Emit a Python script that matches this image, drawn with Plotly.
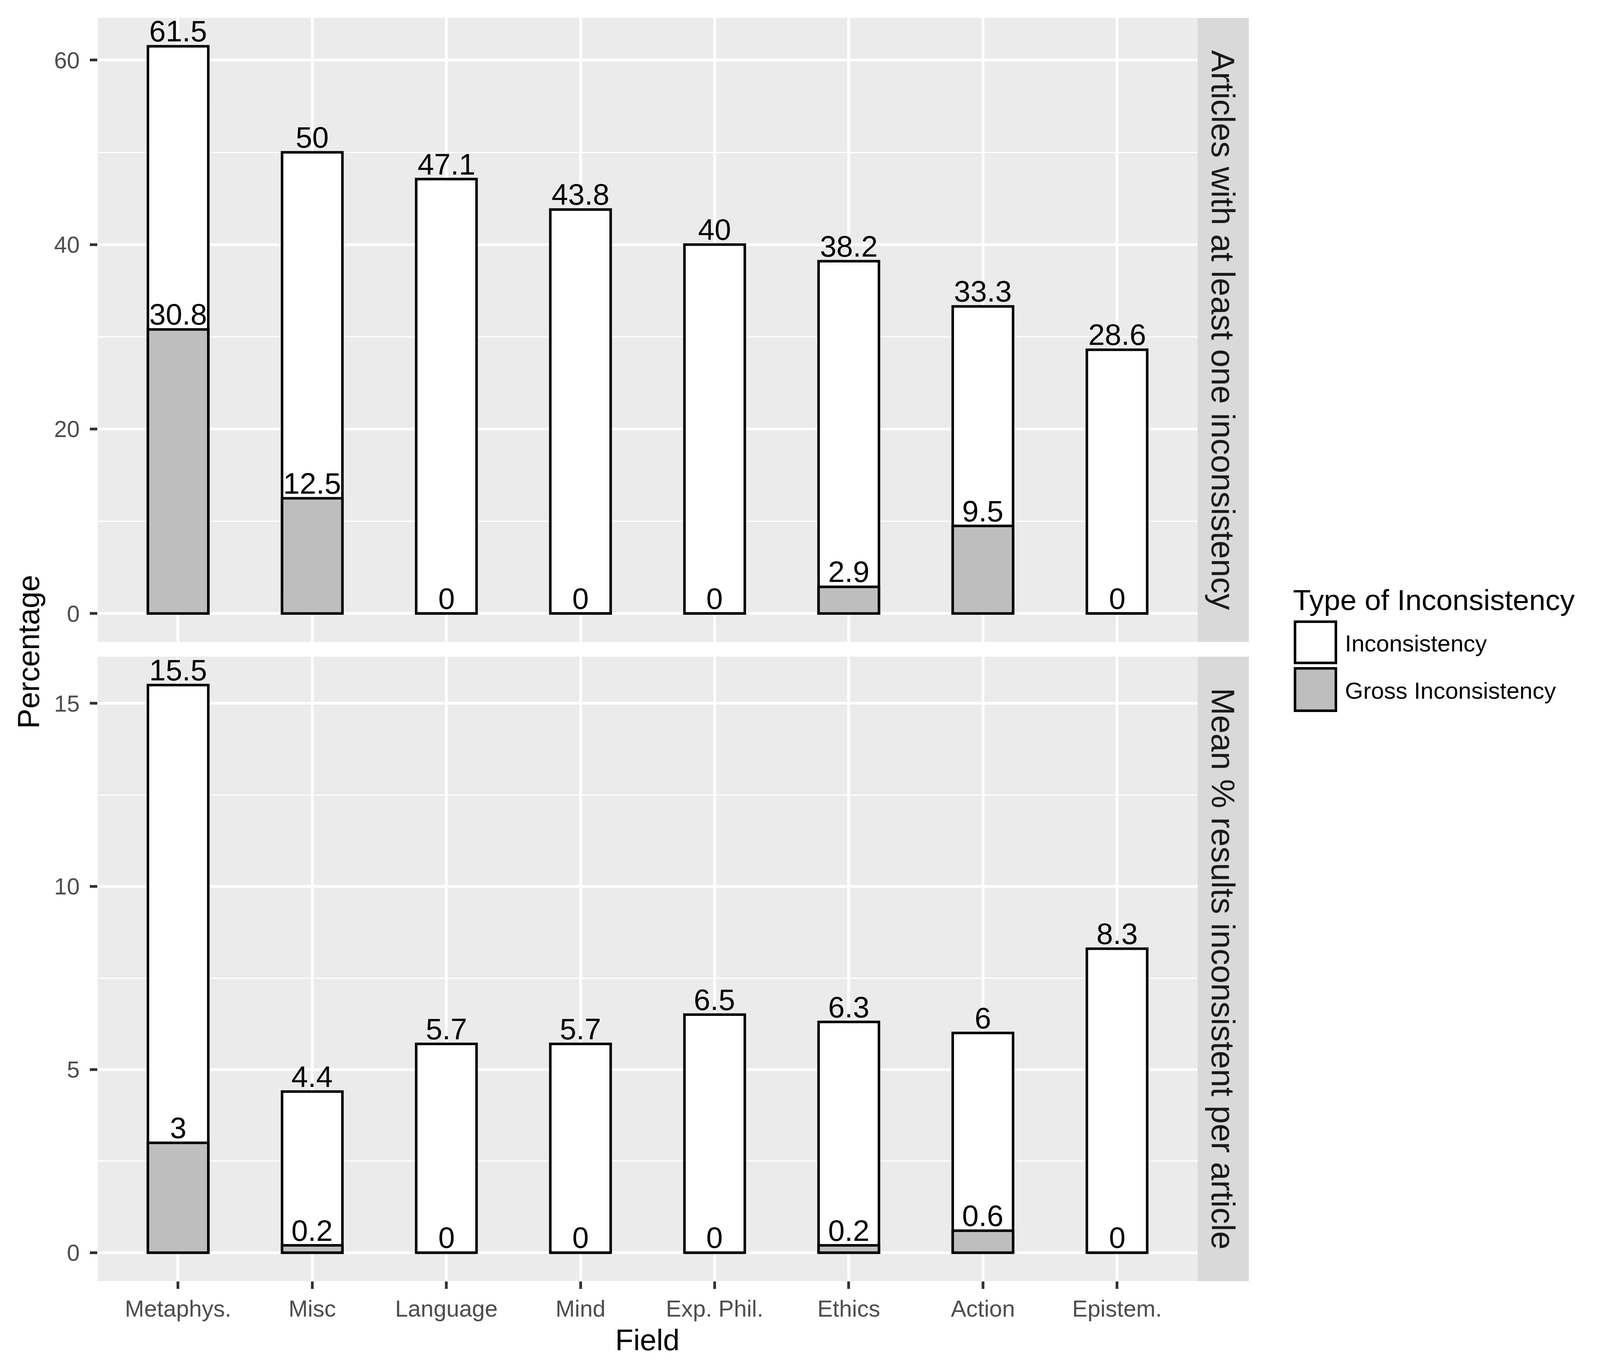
import plotly.graph_objects as go

# ---------------- data ----------------
fields = ["Metaphys.", "Misc", "Language", "Mind", "Exp. Phil.", "Ethics", "Action", "Epistem."]
articles_incons = [61.5, 50, 47.1, 43.8, 40, 38.2, 33.3, 28.6]
articles_gross = [30.8, 12.5, 0, 0, 0, 2.9, 9.5, 0]
mean_incons = [15.5, 4.4, 5.7, 5.7, 6.5, 6.3, 6, 8.3]
mean_gross = [3, 0.2, 0, 0, 0, 0.2, 0.6, 0]
panel_titles = ["Articles with at least one inconsistency",
                "Mean % results inconsistent per article"]
series_names = ["Inconsistency", "Gross Inconsistency"]
y_ticks_top = [0, 20, 40, 60]
y_ticks_bottom = [0, 5, 10, 15]

# ---------------- geometry (reference pixels, converted to paper fractions) ----------------
W, H = 4250, 3500
PX0, PX1 = 252, 3185          # panel x extent
STRIP_X1 = 3322
TOP_Y = (38, 1643)            # top panel (from top of page)
BOT_Y = (1681, 3287)          # bottom panel

def px(x):
    return x / W

def py(y):
    return 1 - y / H

FONT = "Liberation Sans, Arial, sans-serif"
WHITE_FILL = "#FFFFFF"
GREY_FILL = "#BEBEBE"
OUTLINE = 6.5
BAR_W = 0.45

fig = go.Figure()

panels = [
    ("x", "y", articles_incons, articles_gross),
    ("x2", "y2", mean_incons, mean_gross),
]
for xa, ya, tot, gross in panels:
    fig.add_trace(go.Bar(x=fields, y=tot, xaxis=xa, yaxis=ya, width=BAR_W,
                         name=series_names[0], showlegend=False,
                         marker=dict(color=WHITE_FILL, line=dict(color="black", width=OUTLINE)),
                         hoverinfo="x+y"))
    fig.add_trace(go.Bar(x=fields, y=gross, xaxis=xa, yaxis=ya, width=BAR_W,
                         name=series_names[1], showlegend=False,
                         marker=dict(color=GREY_FILL, line=dict(color="black", width=OUTLINE)),
                         hoverinfo="x+y"))

annotations = []

def fmt(v):
    return ("%g" % v)

# value labels
for xa, ya, tot, gross in panels:
    for f, t, g in zip(fields, tot, gross):
        for v in (t, g):
            annotations.append(dict(x=f, y=v, xref=xa, yref=ya, text=fmt(v),
                                    showarrow=False, xanchor="center", yanchor="bottom",
                                    yshift=-6, font=dict(family=FONT, size=76, color="black")))

grid_major = dict(showgrid=True, gridcolor="white", gridwidth=6.5)
common_y = dict(ticks="outside", ticklen=19, tickwidth=7, tickcolor="#333333",
                ticklabelstandoff=14,
                tickfont=dict(family=FONT, size=59, color="#4D4D4D"),
                zeroline=False, showline=False, **grid_major)

fig.update_layout(
    autosize=True,
    margin=dict(l=0, r=0, t=0, b=0, pad=0),
    paper_bgcolor="white", plot_bgcolor="#EBEBEB",
    barmode="overlay",
    showlegend=False,
    xaxis=dict(domain=[px(PX0), px(PX1)], anchor="y", type="category",
               categoryorder="array", categoryarray=fields, range=[-0.6, 7.6],
               showticklabels=False, ticks="", zeroline=False, showline=False,
               matches="x2", **grid_major),
    xaxis2=dict(domain=[px(PX0), px(PX1)], anchor="y2", type="category",
                categoryorder="array", categoryarray=fields, range=[-0.6, 7.6],
                ticks="outside", ticklen=19, tickwidth=7, tickcolor="#333333",
                tickfont=dict(family=FONT, size=59, color="#4D4D4D"),
                zeroline=False, showline=False, **grid_major),
    yaxis=dict(domain=[py(TOP_Y[1]), py(TOP_Y[0])], anchor="x", range=[-3.075, 64.575],
               tickvals=y_ticks_top,
               minor=dict(dtick=10, tick0=0, showgrid=True, gridcolor="white", gridwidth=3.2, ticks=""),
               **common_y),
    yaxis2=dict(domain=[py(BOT_Y[1]), py(BOT_Y[0])], anchor="x2", range=[-0.775, 16.275],
                tickvals=y_ticks_bottom,
                minor=dict(dtick=2.5, tick0=0, showgrid=True, gridcolor="white", gridwidth=3.2, ticks=""),
                **common_y),
)

shapes = []
# facet strips
for (y0, y1), title in zip([TOP_Y, BOT_Y], panel_titles):
    shapes.append(dict(type="rect", xref="paper", yref="paper",
                       x0=px(PX1), x1=px(STRIP_X1), y0=py(y1), y1=py(y0),
                       fillcolor="#D9D9D9", line=dict(width=0), layer="below"))
    annotations.append(dict(x=px((PX1 + STRIP_X1) / 2), y=py((y0 + y1) / 2),
                            xref="paper", yref="paper", text=title, textangle=90,
                            showarrow=False, xanchor="center", yanchor="middle",
                            font=dict(family=FONT, size=84, color="#1A1A1A")))

# axis titles
annotations.append(dict(x=px((PX0 + PX1) / 2), y=py(3438), xref="paper", yref="paper",
                        text="Field", showarrow=False, xanchor="center", yanchor="middle",
                        font=dict(family=FONT, size=76, color="black")))
annotations.append(dict(x=px(68), y=py(1668), xref="paper", yref="paper",
                        text="Percentage", textangle=-90, showarrow=False,
                        xanchor="center", yanchor="middle",
                        font=dict(family=FONT, size=77, color="black")))

# legend (drawn manually to match key size)
LX0, LX1 = 3442, 3557
annotations.append(dict(x=px(LX0 - 4), y=py(1535), xref="paper", yref="paper",
                        text="Type of Inconsistency", showarrow=False,
                        xanchor="left", yanchor="middle",
                        font=dict(family=FONT, size=75, color="black")))
key_rows = [(1588, 1700, WHITE_FILL), (1708, 1823, GREY_FILL)]
for (k0, k1, col), name in zip(key_rows, series_names):
    shapes.append(dict(type="rect", xref="paper", yref="paper",
                       x0=px(LX0 + 3), x1=px(LX1 - 3), y0=py(k1 - 3), y1=py(k0 + 3),
                       fillcolor=col, line=dict(color="black", width=6.5)))
    annotations.append(dict(x=px(3576), y=py((k0 + k1) / 2 + 3), xref="paper", yref="paper",
                            text=name, showarrow=False, xanchor="left", yanchor="middle",
                            font=dict(family=FONT, size=60, color="black")))

fig.update_layout(shapes=shapes, annotations=annotations)
# fill the browser viewport (the figure's layout is expressed in fractions of the page)
fig.write_html("out.html", config={"responsive": True},
               default_width="calc(100vw - 16px)", default_height="calc(100vh - 16px)")
